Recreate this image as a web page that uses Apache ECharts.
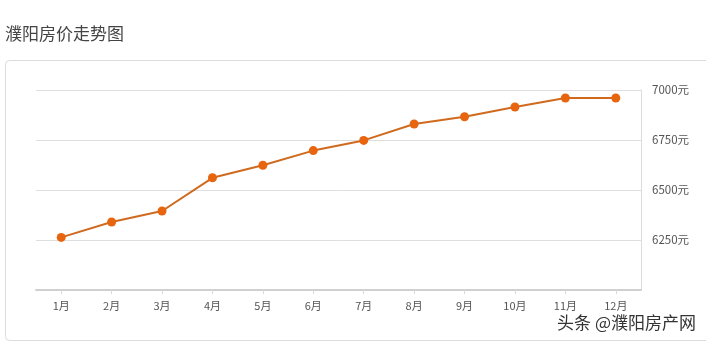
<!DOCTYPE html>
<html>
<head>
<meta charset="utf-8">
<script src="https://cdn.jsdelivr.net/npm/echarts@6/dist/echarts.min.js"></script>
<style>html,body{margin:0;padding:0;background:#fff;}#c{width:706px;height:344px;}</style>
</head>
<body>
<div id="c"></div>
<script>
var months = ['1月','2月','3月','4月','5月','6月','7月','8月','9月','10月','11月','12月'];
var prices = [6263, 6340, 6395, 6561, 6624, 6697, 6748, 6830, 6866, 6915, 6960, 6960];
var yMin = 6000, yMax = 7000, yStep = 250;
var titleText = '濮阳房价走势图';
var watermark = '头条 @濮阳房产网';

var chart = echarts.init(document.getElementById('c'), null, {renderer: 'canvas'});
chart.setOption({
  animation: false,
  backgroundColor: '#fff',
  title: {
    text: titleText, left: 0, top: 20,
    textStyle: {fontSize: 17, fontWeight: 'normal', color: '#444', fontFamily: 'Noto Sans CJK SC'}
  },
  graphic: [
    {type: 'rect', shape: {x: 5.5, y: 60.5, width: 730, height: 280, r: 4}, style: {fill: 'none', stroke: '#dcdcdc', lineWidth: 1}, z: 0},
    {type: 'text', right: 10, top: 314, style: {text: watermark, fontSize: 17, fill: '#333', fontFamily: 'Noto Sans CJK SC'}, z: 10}
  ],
  grid: {left: 36, right: 65, top: 90, bottom: 54},
  xAxis: {
    type: 'category', data: months, boundaryGap: true,
    axisLine: {show: true, lineStyle: {color: '#d0d0d0', width: 2}},
    axisTick: {show: true, alignWithLabel: true, length: 4, lineStyle: {color: '#d8d8d8'}},
    axisLabel: {color: '#555', fontSize: 11, margin: 10, fontFamily: 'Noto Sans CJK SC'},
    splitLine: {show: false}
  },
  yAxis: {
    type: 'value', position: 'right', min: yMin, max: yMax, interval: yStep,
    axisLine: {show: true, lineStyle: {color: '#dcdcdc', width: 1}},
    axisTick: {show: false},
    axisLabel: {color: '#555', fontSize: 11.5, margin: 11, fontFamily: 'Noto Sans CJK SC',
      formatter: function (v) { return v === yMin ? '' : v + '元'; }},
    splitLine: {show: true, lineStyle: {color: '#dedede', width: 1}}
  },
  series: [{
    type: 'line', data: prices,
    symbol: 'circle', symbolSize: 9,
    lineStyle: {color: '#cf6a1f', width: 2},
    itemStyle: {color: '#e8650f'}
  }]
});
</script>
</body>
</html>
